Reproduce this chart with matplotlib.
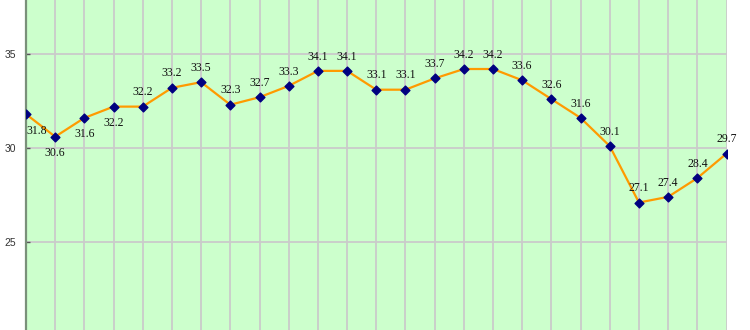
import matplotlib.pyplot as plt

# values, left to right
values = [31.8, 30.6, 31.6, 32.2, 32.2, 33.2, 33.5, 32.3, 32.7, 33.3,
          34.1, 34.1, 33.1, 33.1, 33.7, 34.2, 34.2, 33.6, 32.6, 31.6,
          30.1, 27.1, 27.4, 28.4, 29.7]
y_ticks = [25, 30, 35]
# where each value label sits relative to its point
label_side = ['below', 'below', 'below', 'below'] + ['above'] * 21

x = list(range(len(values)))

fig = plt.figure(figsize=(7.5, 3.3), dpi=100)
ax = fig.add_axes([26 / 750, 0, 700.5 / 750, 1])
ax.set_facecolor('#ccffcc')

ax.plot(x, values, color='#ff9a00', lw=1.6, zorder=3)
ax.scatter(x, values, marker='D', s=20, color='#000080', zorder=4)

for i, (xi, v) in enumerate(zip(x, values)):
    if label_side[i] == 'above':
        off, va = (0, 6), 'bottom'
    else:
        off, va = (0, -7.5), 'top'
    if i == 0:
        off = (8, -7.5)
    ax.annotate(f'{v:.1f}', (xi, v), xytext=off, textcoords='offset points',
                ha='center', va=va, fontsize=8.5, family='Liberation Serif',
                color='#111111', zorder=5)

ax.set_xlim(0, len(values) - 1)
ax.set_ylim(20.32, 37.87)
ax.set_xticks(x)
ax.set_yticks(y_ticks)
ax.grid(True, color='#cacaca', lw=1.3, zorder=0)
ax.set_axisbelow(True)

ax.tick_params(axis='x', length=0, labelbottom=False)
ax.tick_params(axis='y', direction='in', length=3, width=1, color='#555555',
               pad=7, labelsize=7.5, labelcolor='#333333')
for lab in ax.get_yticklabels():
    lab.set_family('Liberation Sans')

for side in ['top', 'right', 'bottom']:
    ax.spines[side].set_visible(False)
ax.spines['left'].set_color('#7a907a')
ax.spines['left'].set_linewidth(1.6)

fig.savefig('out.png', dpi=100)
